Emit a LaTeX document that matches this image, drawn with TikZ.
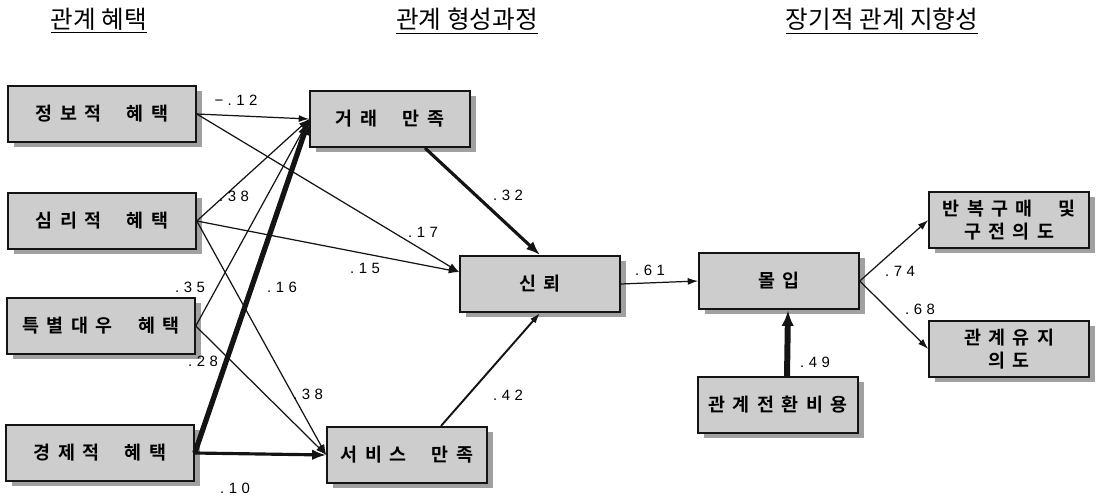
\documentclass[tikz,border=0pt]{standalone}
\usepackage{fontspec}
\setmainfont{Liberation Sans}
\newfontfamily\kor{Noto Sans CJK KR}
\newfontfamily\korsp[LetterSpace=40, WordSpace=2.2, BoldFont={Noto Sans CJK KR Bold}]{Noto Sans CJK KR}
\newfontfamily\numsp[LetterSpace=30]{Liberation Sans}
\usepackage{tikz}
\usetikzlibrary{arrows.meta, positioning, shadows}
\definecolor{boxgray}{RGB}{205,205,205}
\definecolor{shadegray}{RGB}{160,160,160}
\definecolor{inkdark}{RGB}{20,20,20}
\tikzset{
  varbox/.style={rectangle, draw=inkdark, fill=boxgray,
    minimum width=3.2cm, minimum height=1.13cm, align=center,
    font=\korsp\bfseries\fontsize{10.5}{13}\selectfont, line width=0.9pt,
    drop shadow={shadow xshift=0.12cm, shadow yshift=-0.1cm,
      fill=shadegray, opacity=1}},
  widebox/.style={varbox, minimum width=3.76cm},
  coef/.style={font=\numsp\fontsize{8.5}{10}\selectfont, inner sep=0pt},
  head/.style={font=\kor\fontsize{14}{16}\selectfont},
  thinpath/.style={-{Latex[length=6pt,width=4pt]}, line width=0.7pt, color=inkdark},
  midpath/.style={-{Latex[length=8pt,width=6pt]}, line width=1.8pt, color=inkdark},
  boldpath/.style={-{Latex[length=9pt,width=7pt]}, line width=3pt, color=inkdark}
}
\begin{document}
\begin{tikzpicture}[x=0.02cm, y=-0.02cm]
  \useasboundingbox (0,0) rectangle (1098,496);

  % Headings
  \node[head] (hbenefit) at (99,21) {\underline{관계 혜택}};
  \node[head] (hprocess) at (467,21) {\underline{관계 형성과정}};
  \node[head] (horient) at (882,21) {\underline{장기적 관계 지향성}};

  % Relational benefits
  \node[widebox] (info) at (102,114) {정보적 혜택};
  \node[widebox] (psych) at (102,221) {심리적 혜택};
  \node[widebox] (special) at (101,326) {특별대우 혜택};
  \node[widebox] (econ) at (100,453) {경제적 혜택};

  % Relationship building
  \node[varbox] (trans) at (390,119) {거래 만족};
  \node[varbox] (trust) at (540,284) {신뢰};
  \node[varbox] (serv) at (407,455) {서비스 만족};

  % Long-term orientation
  \node[varbox] (commit) at (779,281) {몰입};
  \node[varbox] (switch) at (778,405) {관계전환비용};
  \node[varbox] (rebuy) at (1009,220) {반복구매 및\\구전의도};
  \node[varbox] (keep) at (1009,349) {관계유지\\의도};

  % Paths
  \draw[thinpath] (info.east) -- (trans.west);
  \draw[thinpath] (info.east) -- ([yshift=0.24cm]trust.west);
  \draw[thinpath] (psych.east) -- (trans.west);
  \draw[thinpath] (psych.east) -- ([yshift=0.24cm]trust.west);
  \draw[thinpath] (psych.east) -- (serv.west);
  \draw[thinpath] (special.east) -- (trans.west);
  \draw[thinpath] (special.east) -- (serv.west);
  \draw[boldpath] (econ.east) -- (trans.west);
  \draw[midpath] (econ.east) -- (serv.west);
  \draw[midpath] ([xshift=0.7cm]trans.south) -- (trust.north);
  \draw[thinpath, line width=1.1pt] ([xshift=0.68cm]serv.north) -- (trust.south);
  \draw[thinpath] (trust.east) -- (commit.west);
  \draw[boldpath, line width=3.4pt] ([xshift=0.18cm]switch.north) -- ([xshift=0.18cm]commit.south);
  \draw[thinpath] (commit.east) -- (rebuy.west);
  \draw[thinpath] (commit.east) -- (keep.west);

  % Coefficients
  \node[coef] (c1) at (236,100) {−.12};
  \node[coef] (c2) at (234,196) {.38};
  \node[coef] (c3) at (423,232) {.17};
  \node[coef] (c4) at (365,268) {.15};
  \node[coef] (c5) at (190,287) {.35};
  \node[coef] (c6) at (282,287) {.16};
  \node[coef] (c7) at (203,361) {.28};
  \node[coef] (c8) at (308,394) {.38};
  \node[coef] (c9) at (235,488) {.10};
  \node[coef] (c10) at (508,195) {.32};
  \node[coef] (c11) at (508,395) {.42};
  \node[coef] (c12) at (650,270) {.61};
  \node[coef] (c13) at (815,362) {.49};
  \node[coef] (c14) at (900,271) {.74};
  \node[coef] (c15) at (920,309) {.68};
\end{tikzpicture}
\end{document}
